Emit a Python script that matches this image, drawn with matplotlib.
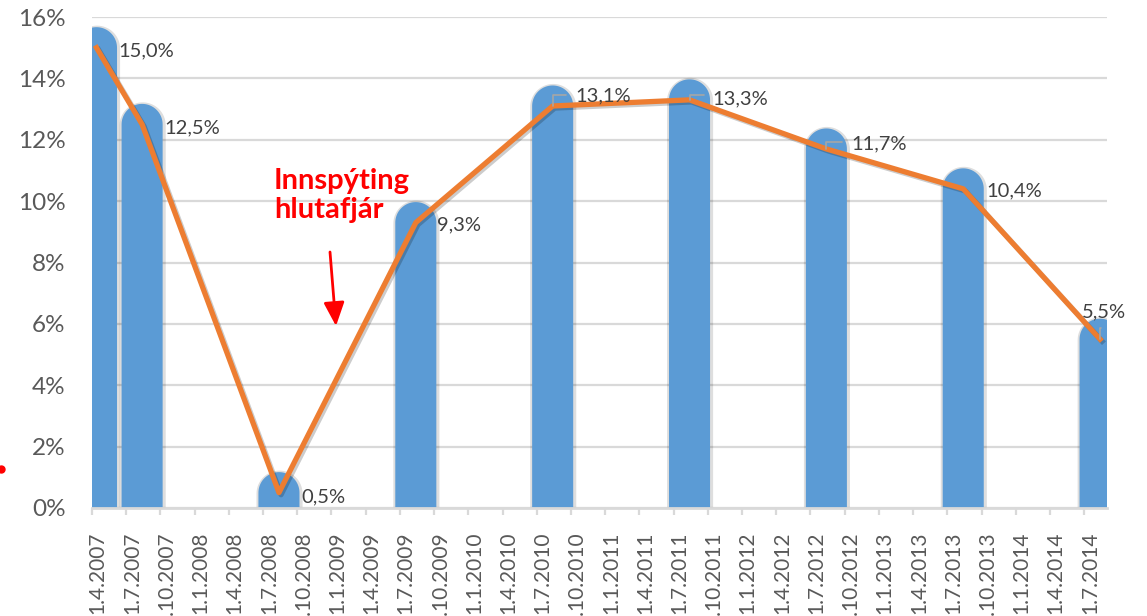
import numpy as np
import matplotlib.pyplot as plt
import matplotlib.patheffects as pe
from matplotlib.lines import Line2D

# gögn lesin af myndinni (dagsetning mælingar, arðsemi %)
dates = ['13.4.2007', '13.8.2007', '13.8.2008', '13.8.2009', '13.8.2010',
         '13.8.2011', '13.8.2012', '13.8.2013', '13.8.2014']
values = [15.0, 12.5, 0.5, 9.3, 13.1, 13.3, 11.7, 10.4, 5.5]
value_labels = ['15,0%', '12,5%', '0,5%', '9,3%', '13,1%',
                '13,3%', '11,7%', '10,4%', '5,5%']

tick_dates = ['1.4.2007', '1.7.2007', '1.10.2007', '1.1.2008', '1.4.2008',
              '1.7.2008', '1.10.2008', '1.1.2009', '1.4.2009', '1.7.2009',
              '1.10.2009', '1.1.2010', '1.4.2010', '1.7.2010', '1.10.2010',
              '1.1.2011', '1.4.2011', '1.7.2011', '1.10.2011', '1.1.2012',
              '1.4.2012', '1.7.2012', '1.10.2012', '1.1.2013', '1.4.2013',
              '1.7.2013', '1.10.2013', '1.1.2014', '1.4.2014', '1.7.2014']
y_ticks = [0, 2, 4, 6, 8, 10, 12, 14, 16]

# staðsetning merkimiða (pixlar frá punkti)
label_offsets = [(22, -3), (22, -3), (22, -4), (21, -2), (23, 10),
                 (23, 1), (25, 5), (23, -2), (4, 27)]
# litlar leiðarlínur (vísir, dx, dy)
leaders = [(4, 13, 11), (5, 14, 5), (6, 16, 7), (8, 1, 11)]

BLUE = '#5B9BD5'
ORANGE = '#ED7D31'
GRID = '#D9D9D9'
TXT = '#595959'


def to_month(s):
    d, m, y = (int(p) for p in s.split('.'))
    return (y - 2007) * 12 + (m - 4) + (d - 1) / 30.5


W, H = 1147, 616
fig = plt.figure(figsize=(W / 100, H / 100), dpi=100)
ax = fig.add_axes([92 / W, 108 / H, 1015 / W, 491 / H])
ax.set_xlim(0, 89)
ax.set_ylim(0, 16)

xs = np.array([to_month(d) for d in dates])
tick_x = np.array([to_month(d) for d in tick_dates])

# breidd súlu og hálfhringur ofan á
bar_w = 3.6
px_x = 1015 / 89
px_y = 491 / 16
rx = bar_w / 2
ry = rx * px_x / px_y
theta = np.linspace(0, np.pi, 40)

for x, v in zip(xs, values):
    # skuggi
    sx = rx + 0.22
    sy = ry + 0.08
    px = np.concatenate([[x - sx, x + sx], x + sx * np.cos(theta), [x - sx]])
    py = np.concatenate([[-1, -1], v + sy * np.sin(theta), [-1]])
    ax.fill(px + 0.05, py - 0.03, color='#000000', alpha=0.13, lw=0, zorder=2)
    bx = np.concatenate([[x - rx, x + rx], x + rx * np.cos(theta), [x - rx]])
    by = np.concatenate([[-1, -1], v + ry * np.sin(theta), [-1]])
    ax.fill(bx, by, color=BLUE, lw=0, zorder=3)

ax.plot(xs, values, color=ORANGE, lw=3.8, zorder=5, solid_joinstyle='round',
        path_effects=[pe.SimpleLineShadow(offset=(1.5, -1.5), alpha=0.2),
                      pe.Normal()])

for x, v, lab, (dx, dy) in zip(xs, values, value_labels, label_offsets):
    ha = 'center' if dy > 20 else 'left'
    ax.annotate(lab, (x, v), xytext=(dx, dy), textcoords='offset pixels',
                ha=ha, va='center', fontsize=14.5, color='#404040',
                family='Lato', zorder=6)

for i, dx, dy in leaders:
    ax.annotate('', (xs[i], values[i]), xytext=(dx, dy), textcoords='offset pixels',
                arrowprops=dict(arrowstyle='-', color='#A6A6A6', lw=1.2,
                                connectionstyle='angle,angleA=0,angleB=90,rad=0',
                                shrinkA=0, shrinkB=0), zorder=6)

# ásar
ax.set_yticks(y_ticks)
ax.set_yticklabels([f'{t}%' for t in y_ticks], fontsize=17.5, color=TXT,
                   family='Lato')
ax.tick_params(axis='y', length=0, pad=19)
ax.grid(axis='y', color=GRID, lw=1.6, zorder=0)
ax.set_axisbelow(True)

ax.set_xticks(tick_x, minor=True)
ax.set_xticks(tick_x + 0.5)
ax.set_xticklabels(tick_dates, rotation=90, fontsize=15, color=TXT,
                   family='Lato')
ax.tick_params(axis='x', which='major', length=0, pad=17)
ax.tick_params(axis='x', which='minor', length=5, width=1.6, color=GRID)

for s in ('top', 'right', 'left'):
    ax.spines[s].set_visible(False)
ax.spines['bottom'].set_color(GRID)
ax.spines['bottom'].set_linewidth(2)
ax.spines['bottom'].set_zorder(4)

# textaskýring og ör
fig.text(274 / W, 1 - 168 / H, 'Innspýting\nhlutafjár', ha='left', va='top',
         fontsize=21, fontweight='bold', color='#FF0000', family='Lato',
         linespacing=1.15)
ax.annotate('', xy=(336, H - 326), xytext=(330, H - 252),
            xycoords='figure pixels', textcoords='figure pixels',
            arrowprops=dict(arrowstyle='-|>,head_length=0.8,head_width=0.35',
                            color='#FF0000', lw=2, mutation_scale=18,
                            shrinkA=0, shrinkB=0))
fig.add_artist(Line2D([1 / W], [1 - 469 / H], marker='o', ms=5, color='#FF0000',
                      transform=fig.transFigure))

fig.savefig('out.png', dpi=100)
